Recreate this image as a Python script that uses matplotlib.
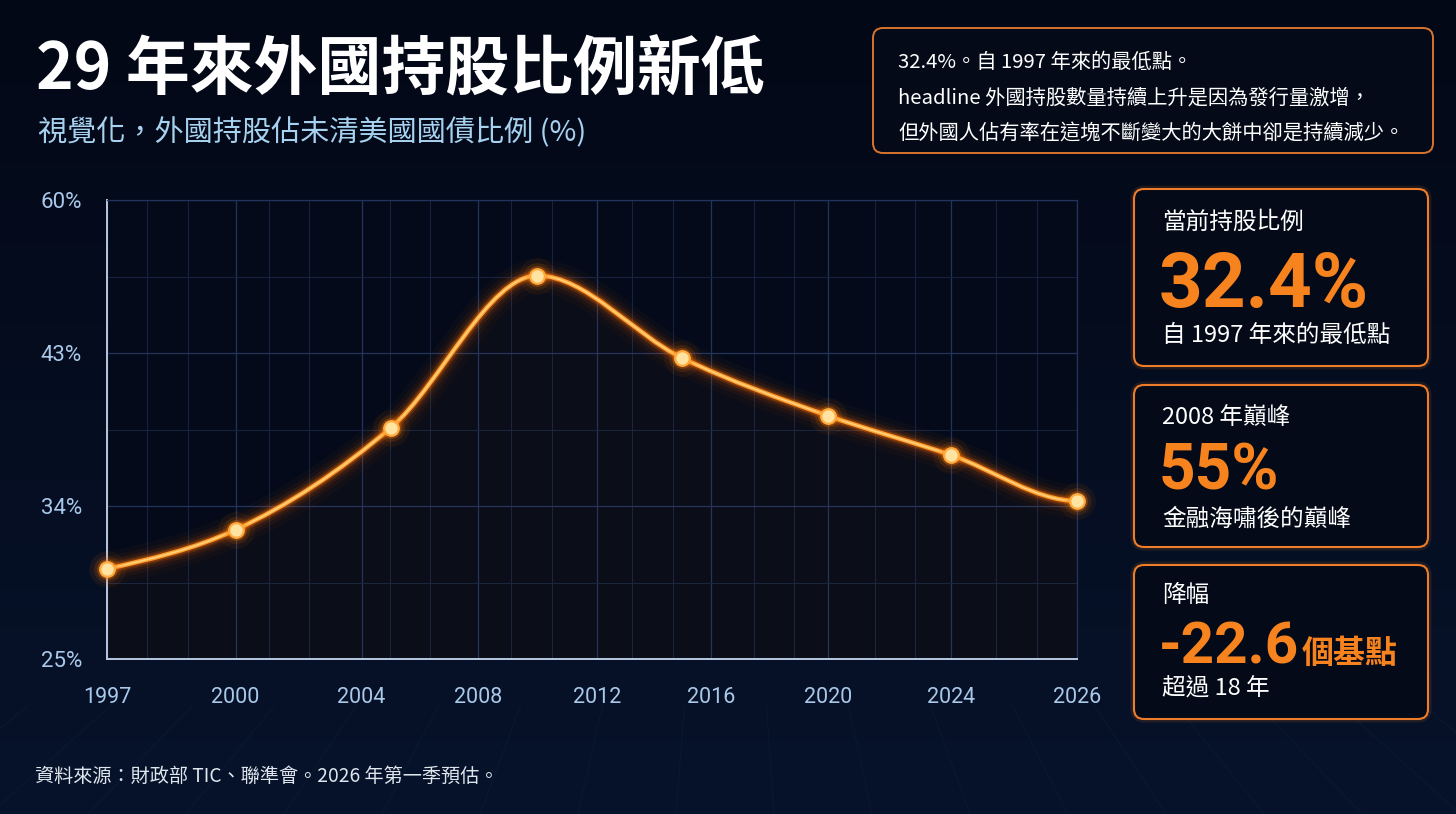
import numpy as np
import matplotlib.pyplot as plt
from matplotlib.patches import FancyBboxPatch, PathPatch
from matplotlib.path import Path
from matplotlib.colors import LinearSegmentedColormap

# data
years = [1997, 2000, 2005, 2010, 2015, 2020, 2024, 2026]
share = [30.3, 32.6, 38.6, 51.6, 42.7, 39.3, 37.0, 34.3]

x_ticks = [1997, 2000, 2004, 2008, 2012, 2016, 2020, 2024, 2026]
y_ticks = [25, 34, 43, 60]
y_tick_labels = ['25%', '34%', '43%', '60%']

title = '29 年來外國持股比例新低'
subtitle = '視覺化，外國持股佔未清美國國債比例 (%)'
note_lines = ['32.4%。自 1997 年來的最低點。',
              'headline 外國持股數量持續上升是因為發行量激增，',
              '但外國人佔有率在這塊不斷變大的大餅中卻是持續減少。']
card_titles = ['當前持股比例', '2008 年巔峰', '降幅']
card_values = ['32.4%', '55%', '-22.6']
card_units = ['', '', '個基點']
card_subs = ['自 1997 年來的最低點', '金融海嘯後的巔峰', '超過 18 年']
source = '資料來源：財政部 TIC、聯準會。2026 年第一季預估。'

# the axes of the original are uneven: tick slots are evenly spaced
x_slots = [0, 1.06, 2.10, 3.06, 4.04, 4.98, 5.95, 6.96, 8.0]
y_slots = [0, 1, 2, 3]

def fx(v):
    return np.interp(v, x_ticks, x_slots)

def fx_inv(p):
    return np.interp(p, x_slots, x_ticks)

def fy(v):
    return np.interp(v, y_ticks, y_slots)

def fy_inv(p):
    return np.interp(p, y_slots, y_ticks)

cjk = ['Noto Sans CJK TC', 'DejaVu Sans']
num = ['Roboto', 'DejaVu Sans']
plt.rcParams['font.family'] = cjk

ORANGE = '#f7831f'
TICK = '#a9c9ea'

fig = plt.figure(figsize=(14.56, 8.14), dpi=100)
fig.patch.set_facecolor('#050b1b')

# background layer in pixel coordinates
bg = fig.add_axes([0, 0, 1, 1], zorder=0)
bg.set_xlim(0, 1456)
bg.set_ylim(814, 0)
bg.axis('off')
grad = np.linspace(0, 1, 200).reshape(-1, 1)
cmap = LinearSegmentedColormap.from_list('bgc', ['#030816', '#050d20', '#07132b'])
bg.imshow(grad, extent=[0, 1456, 814, 0], aspect='auto', cmap=cmap, zorder=0)

# faint perspective floor
vp = np.array([728, 150])
for xb in np.linspace(-500, 1950, 26):
    b = np.array([xb, 814])
    t = (814 - 705) / (814 - vp[1])
    top = b + t * (vp - b)
    bg.plot([b[0], top[0]], [b[1], top[1]], color='#1c3160', lw=0.7, alpha=0.2, zorder=1)

# titles
bg.text(36, 71, title, fontsize=46, weight='bold', color='white', va='center', zorder=3)
bg.text(38, 133, subtitle, fontsize=21, color='#a6d2ef', va='center', zorder=3)

# note box
bg.add_patch(FancyBboxPatch((873, 28), 560, 125, boxstyle='round,pad=0,rounding_size=10',
                            fc='#050a18', ec='#d8742e', lw=1.4, zorder=2))
for i, line in enumerate(note_lines):
    bg.text(898, 62 + i * 36, line, fontsize=14.6, color='white', va='center', zorder=3)

# stat cards
card_y = [(189, 366), (385, 547), (565, 719)]
title_y = [222, 417, 595]
value_base = [307, 490, 663]
value_size = [55, 46, 42]
sub_y = [336, 519, 689]
for i in range(3):
    y0, y1 = card_y[i]
    bg.add_patch(FancyBboxPatch((1134, y0), 294, y1 - y0, boxstyle='round,pad=0,rounding_size=10',
                                fc='none', ec=ORANGE, lw=5, alpha=0.12, zorder=2))
    bg.add_patch(FancyBboxPatch((1134, y0), 294, y1 - y0, boxstyle='round,pad=0,rounding_size=10',
                                fc='#050a18', ec='#ee7d2a', lw=1.5, zorder=2))
    bg.text(1162, title_y[i], card_titles[i], fontsize=17, color='white', va='center', zorder=3)
    bg.text(1159, value_base[i], card_values[i], fontsize=value_size[i], weight='bold',
            family=num, color=ORANGE, va='baseline', zorder=3)
    if card_units[i]:
        bg.text(1302, value_base[i], card_units[i], fontsize=23, weight='bold',
                color=ORANGE, va='baseline', zorder=3)
    bg.text(1162, sub_y[i], card_subs[i], fontsize=17, color='white', va='center', zorder=3)

bg.text(35, 776, source, fontsize=13.8, color='#dfe6ee', va='center', zorder=3)

# main plot
ax = fig.add_axes([107 / 1456, 1 - 659 / 814, 970 / 1456, 459 / 814], zorder=2)
ax.set_facecolor('#040a19')
ax.set_xscale('function', functions=(fx, fx_inv))
ax.set_yscale('function', functions=(fy, fy_inv))

ax.set_xticks(x_ticks)
ax.set_xticklabels([str(y) for y in x_ticks], family=num, fontsize=15.5, color=TICK)
ax.set_yticks(y_ticks)
ax.set_yticklabels(y_tick_labels, family=num, fontsize=16, color=TICK)
minor_x = [i + k / 3 for i in range(8) for k in (1, 2)]
ax.set_xticks(fx_inv(np.array(minor_x)), minor=True)
ax.set_yticks(fy_inv(np.array([0.5, 1.5, 2.5])), minor=True)
ax.tick_params(which='both', length=0)
ax.tick_params(axis='x', pad=20)
ax.tick_params(axis='y', pad=18)
ax.grid(which='major', color='#22335c', lw=0.9)
ax.grid(which='minor', color='#162443', lw=0.7)
ax.set_axisbelow(True)
for s in ['left', 'bottom']:
    ax.spines[s].set_color('#b9c9e2')
    ax.spines[s].set_linewidth(1.4)
for s in ['top', 'right']:
    ax.spines[s].set_color('#22335c')
    ax.spines[s].set_linewidth(0.9)

# smooth line (monotone cubic in slot space) built as a bezier path
px = fx(np.array(years, dtype=float))
py = fy(np.array(share, dtype=float))
n = len(px)
h = np.diff(px)
s = np.diff(py) / h
t = np.zeros(n)
for i in range(1, n - 1):
    p = (s[i - 1] * h[i] + s[i] * h[i - 1]) / (h[i - 1] + h[i])
    t[i] = (np.sign(s[i - 1]) + np.sign(s[i])) * min(abs(s[i - 1]), abs(s[i]), 0.5 * abs(p))
t[0] = (3 * s[0] - t[1]) / 2
t[-1] = 0.0
verts = [(px[0], py[0])]
codes = [Path.MOVETO]
for i in range(n - 1):
    dx = h[i] / 3
    verts += [(px[i] + dx, py[i] + dx * t[i]),
              (px[i + 1] - dx, py[i + 1] - dx * t[i + 1]),
              (px[i + 1], py[i + 1])]
    codes += [Path.CURVE4] * 3
verts = np.array(verts)
data_verts = np.column_stack([fx_inv(verts[:, 0]), fy_inv(verts[:, 1])])
curve = Path(data_verts, codes)

# faint warm fill under the curve
fill_verts = np.vstack([data_verts, [[years[-1], 25], [years[0], 25], data_verts[0]]])
fill_codes = codes + [Path.LINETO, Path.LINETO, Path.CLOSEPOLY]
ax.add_patch(PathPatch(Path(fill_verts, fill_codes), fc='#ff6a00', ec='none', alpha=0.03, zorder=2))

for lw, a in [(24, 0.03), (17, 0.05), (12, 0.09), (8, 0.16), (5.5, 0.3)]:
    ax.add_patch(PathPatch(curve, fill=False, ec='#ff6a00', lw=lw, alpha=a,
                           capstyle='round', joinstyle='round', clip_on=False, zorder=3))
ax.add_patch(PathPatch(curve, fill=False, ec='#ff9f2e', lw=3.2, capstyle='round', clip_on=False, zorder=4))
ax.add_patch(PathPatch(curve, fill=False, ec='#ffcf7a', lw=1.3, capstyle='round', clip_on=False, zorder=4))

for sz, a in [(700, 0.06), (380, 0.12), (220, 0.3)]:
    ax.scatter(years, share, s=sz, color='#ff7a00', alpha=a, lw=0, clip_on=False, zorder=5)
ax.scatter(years, share, s=110, color='#ffe3a0', edgecolor='#ffab40', lw=1.6, clip_on=False, zorder=6)

ax.set_xlim(1997, 2026)
ax.set_ylim(25, 60)

fig.savefig('out.png', dpi=100, facecolor=fig.get_facecolor())
